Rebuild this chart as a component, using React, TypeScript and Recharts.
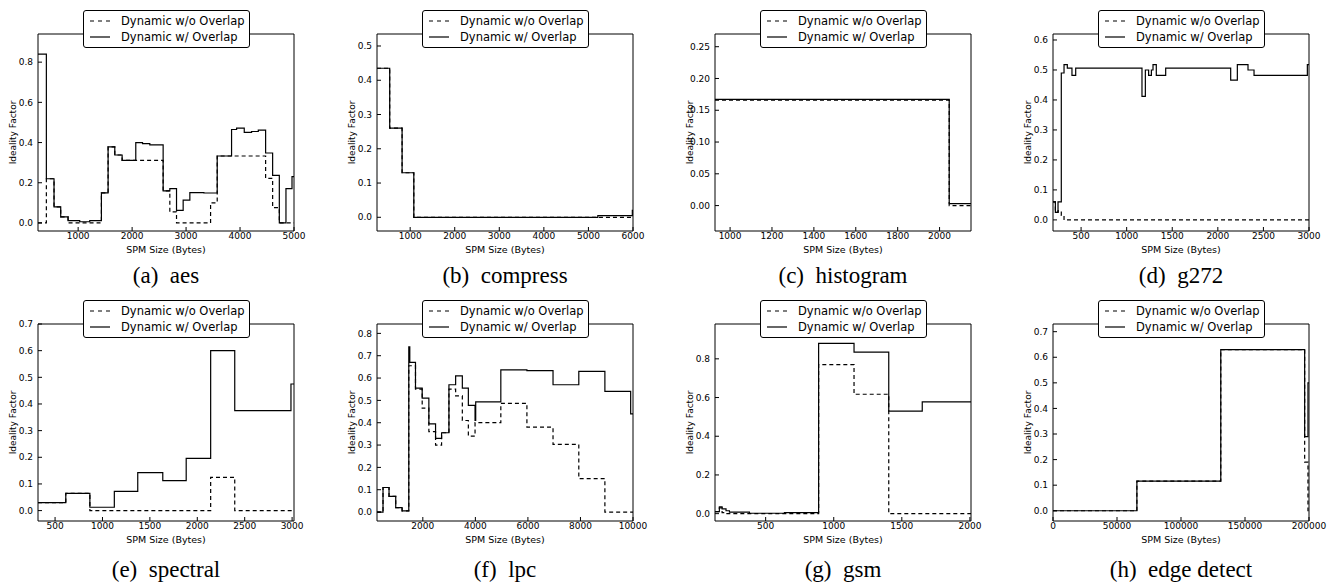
import { Legend, Line, LineChart, XAxis, YAxis } from "recharts";

type Pt = [number, number];

const seriesNames = ["Dynamic w/o Overlap", "Dynamic w/ Overlap"];
const captions = [
  "(a) aes",
  "(b) compress",
  "(c) histogram",
  "(d) g272",
  "(e) spectral",
  "(f) lpc",
  "(g) gsm",
  "(h) edge detect",
];

// [SPM size, ideality factor] break points of each step curve
const aesWo: Pt[] = [[256, 0], [411, 0.22], [553, 0.08], [677, 0.03], [813, 0], [1431, 0.15], [1555, 0.378], [1679, 0.338], [1815, 0.311], [2575, 0.16], [2699, 0.055], [2823, 0], [3454, 0.1], [3577, 0.333], [4474, 0.222], [4604, 0.076], [4728, 0], [5000, 0]];
const aesW: Pt[] = [[256, 0.84], [411, 0.22], [553, 0.08], [677, 0.03], [813, 0.012], [1029, 0.006], [1215, 0.012], [1431, 0.15], [1555, 0.378], [1679, 0.338], [1815, 0.311], [2068, 0.4], [2193, 0.395], [2328, 0.388], [2575, 0.16], [2699, 0.171], [2823, 0.063], [2946, 0.114], [3070, 0.151], [3330, 0.149], [3577, 0.333], [3843, 0.465], [3936, 0.472], [4078, 0.451], [4214, 0.455], [4338, 0.462], [4474, 0.348], [4604, 0.237], [4728, 0], [4851, 0.171], [4963, 0.23], [5000, 0.23]];

const compWo: Pt[] = [[256, 0.435], [541, 0.26], [819, 0.13], [1082, 0], [6000, 0]];
const compW: Pt[] = [[256, 0.435], [541, 0.26], [819, 0.13], [1082, 0], [5211, 0.005], [5985, 0.02], [6000, 0.02]];

const histWo: Pt[] = [[928, 0.166], [2046, 0], [2150, 0]];
const histW: Pt[] = [[928, 0.167], [2046, 0.003], [2150, 0.003]];

const g272Wo: Pt[] = [[192, 0.06], [218, 0.025], [247, 0.03], [283, 0.015], [313, 0], [3000, 0]];
const g272W: Pt[] = [[192, 0.06], [218, 0.025], [247, 0.06], [283, 0.49], [313, 0.518], [349, 0.506], [400, 0.482], [441, 0.506], [1168, 0.412], [1205, 0.5], [1241, 0.482], [1271, 0.5], [1289, 0.518], [1325, 0.482], [1428, 0.506], [2141, 0.466], [2214, 0.518], [2331, 0.5], [2397, 0.482], [2982, 0.518], [3000, 0.518]];

const specWo: Pt[] = [[320, 0.03], [613, 0.065], [867, 0], [2141, 0.125], [2395, 0], [3020, 0]];
const specW: Pt[] = [[320, 0.03], [613, 0.065], [867, 0.0125], [1125, 0.0725], [1372, 0.1425], [1636, 0.1125], [1883, 0.196], [2141, 0.6], [2395, 0.375], [2988, 0.475], [3020, 0.475]];

const lpcWo: Pt[] = [[256, 0], [485, 0.11], [714, 0.07], [969, 0.02], [1211, 0.005], [1466, 0.655], [1721, 0.55], [1976, 0.465], [2230, 0.36], [2485, 0.3], [2714, 0.355], [2994, 0.55], [3249, 0.52], [3504, 0.41], [3733, 0.34], [3988, 0.4], [4969, 0.487], [5962, 0.38], [6956, 0.303], [7937, 0.15], [8930, 0], [10000, 0]];
const lpcW: Pt[] = [[256, 0], [485, 0.11], [714, 0.07], [969, 0.02], [1211, 0.005], [1466, 0.74], [1504, 0.67], [1721, 0.555], [1976, 0.51], [2230, 0.395], [2485, 0.33], [2714, 0.355], [2994, 0.57], [3249, 0.61], [3504, 0.555], [3733, 0.478], [3988, 0.41], [4013, 0.493], [4969, 0.637], [5962, 0.633], [6956, 0.57], [7937, 0.63], [8930, 0.54], [9911, 0.44], [10000, 0.44]];

const gsmWo: Pt[] = [[128, 0.01], [160, 0.03], [180, 0.005], [209, 0], [889, 0.77], [1149, 0.617], [1404, 0], [2008, 0]];
const gsmW: Pt[] = [[128, 0.01], [160, 0.035], [180, 0.025], [209, 0.015], [234, 0.008], [381, 0.002], [638, 0.005], [889, 0.88], [1149, 0.835], [1404, 0.53], [1650, 0.578], [2008, 0.578]];

const edgeWo: Pt[] = [[0, 0], [65536, 0.116], [131072, 0.63], [196608, 0.19], [199200, 0], [200000, 0]];
const edgeW: Pt[] = [[0, 0], [65536, 0.116], [131072, 0.63], [196608, 0.29], [199200, 0.5], [200000, 0.5]];

const seriesWo = [aesWo, compWo, histWo, g272Wo, specWo, lpcWo, gsmWo, edgeWo];
const seriesW = [aesW, compW, histW, g272W, specW, lpcW, gsmW, edgeW];

const xDomains: [number, number][] = [[256, 5000], [256, 6000], [928, 2150], [192, 3000], [320, 3020], [256, 10000], [128, 2008], [0, 200000]];
const xTicks = [
  [1000, 2000, 3000, 4000, 5000],
  [1000, 2000, 3000, 4000, 5000, 6000],
  [1000, 1200, 1400, 1600, 1800, 2000],
  [500, 1000, 1500, 2000, 2500, 3000],
  [500, 1000, 1500, 2000, 2500, 3000],
  [2000, 4000, 6000, 8000, 10000],
  [500, 1000, 1500, 2000],
  [0, 50000, 100000, 150000, 200000],
];
const yDomains: [number, number][] = [[-0.04, 0.94], [-0.04, 0.535], [-0.04, 0.27], [-0.037, 0.62], [-0.039, 0.7], [-0.04, 0.842], [-0.038, 0.98], [-0.04, 0.73]];
const yTicks = [
  [0, 0.2, 0.4, 0.6, 0.8],
  [0, 0.1, 0.2, 0.3, 0.4, 0.5],
  [0, 0.05, 0.1, 0.15, 0.2, 0.25],
  [0, 0.1, 0.2, 0.3, 0.4, 0.5, 0.6],
  [0, 0.1, 0.2, 0.3, 0.4, 0.5, 0.6, 0.7],
  [0, 0.1, 0.2, 0.3, 0.4, 0.5, 0.6, 0.7, 0.8],
  [0, 0.2, 0.4, 0.6, 0.8],
  [0, 0.1, 0.2, 0.3, 0.4, 0.5, 0.6, 0.7],
];
const yDigits = [1, 1, 2, 1, 1, 1, 1, 1];

const FONT = "'DejaVu Sans', sans-serif";
const PLOT_W = 256;
const PLOT_H = 197;
const colLefts = [38, 377, 715, 1053];
const rowTops = [34, 324];
const captionCenters = [276, 570];
const Y_AXIS_W = 45;
const TOP_PAD = 30;

const toRows = (pts: Pt[]) => pts.map(([x, y]) => ({ x, y }));

const LegendBox = (props: any) => {
  const payload = [...(props.payload || [])].sort(
    (a: any, b: any) => seriesNames.indexOf(a.value) - seriesNames.indexOf(b.value)
  );
  return (
    <div
      style={{
        boxSizing: "border-box",
        width: 167,
        border: "1px solid #000",
        borderRadius: 3,
        background: "#fff",
        padding: "1.5px 0 1.5px 6px",
        fontFamily: FONT,
        fontSize: 11.5,
        color: "#000",
      }}
    >
      {payload.map((entry: any, i: number) => (
        <div key={i} style={{ display: "flex", alignItems: "center", height: 16.6 }}>
          <svg width={20} height={6} style={{ display: "block" }}>
            <line
              x1={0}
              y1={3}
              x2={20}
              y2={3}
              stroke="#000"
              strokeWidth={1.2}
              strokeDasharray={entry.value === seriesNames[0] ? "4 4" : undefined}
            />
          </svg>
          <span style={{ marginLeft: 11, whiteSpace: "nowrap" }}>{entry.value}</span>
        </div>
      ))}
    </div>
  );
};

function Panel({ idx }: { idx: number }) {
  const col = idx % 4;
  const row = Math.floor(idx / 4);
  const left = colLefts[col] - Y_AXIS_W;
  const top = rowTops[row] - TOP_PAD;
  const digits = yDigits[idx];
  const axisLine = { stroke: "#000", strokeWidth: 1 };
  const tickLine = { stroke: "#000" };
  const tickStyle = { fontSize: 9, fill: "#000", fontFamily: FONT };

  return (
    <div style={{ position: "absolute", left, top }}>
      <LineChart
        width={Y_AXIS_W + PLOT_W + 1 + 20}
        height={TOP_PAD + PLOT_H + 30}
        margin={{ top: TOP_PAD - 1, right: 20, bottom: 0, left: 0 }}
      >
        <XAxis
          dataKey="x"
          type="number"
          domain={xDomains[idx]}
          ticks={xTicks[idx]}
          interval={0}
          height={30}
          axisLine={axisLine}
          tickLine={tickLine}
          tickSize={-4}
          tickMargin={6}
          tick={tickStyle}
          tickFormatter={(v: number) => String(v)}
          label={{ value: "SPM Size (Bytes)", position: "insideBottom", offset: 8, fontSize: 9.5, fill: "#000", fontFamily: FONT }}
        />
        <XAxis
          xAxisId="t"
          orientation="top"
          dataKey="x"
          type="number"
          domain={xDomains[idx]}
          ticks={xTicks[idx]}
          interval={0}
          height={1}
          axisLine={axisLine}
          tickLine={tickLine}
          tickSize={-4}
          tick={false}
        />
        <YAxis
          type="number"
          domain={yDomains[idx]}
          ticks={yTicks[idx]}
          interval={0}
          width={Y_AXIS_W}
          axisLine={axisLine}
          tickLine={tickLine}
          tickSize={-4}
          tickMargin={9}
          tick={tickStyle}
          tickFormatter={(v: number) => v.toFixed(digits)}
          label={{
            value: "Ideality Factor",
            angle: -90,
            position: "insideLeft",
            offset: 20,
            fontSize: 9,
            fill: "#000",
            fontFamily: FONT,
            style: { textAnchor: "middle" },
          }}
        />
        <YAxis
          yAxisId="r"
          orientation="right"
          type="number"
          domain={yDomains[idx]}
          ticks={yTicks[idx]}
          interval={0}
          width={1}
          axisLine={axisLine}
          tickLine={tickLine}
          tickSize={-4}
          tick={false}
        />
        <Legend
          layout="horizontal"
          verticalAlign="middle"
          align="center"
          width={167}
          wrapperStyle={{ top: 6, left: Y_AXIS_W + 45 }}
          content={LegendBox}
        />
        <Line
          data={toRows(seriesWo[idx])}
          dataKey="y"
          name={seriesNames[0]}
          type="stepAfter"
          stroke="#000"
          strokeWidth={1.2}
          strokeDasharray="4 3"
          dot={false}
          activeDot={false}
          isAnimationActive={false}
        />
        <Line
          data={toRows(seriesW[idx])}
          dataKey="y"
          name={seriesNames[1]}
          type="stepAfter"
          stroke="#000"
          strokeWidth={1.2}
          dot={false}
          activeDot={false}
          isAnimationActive={false}
        />
      </LineChart>
    </div>
  );
}

export default function App() {
  return (
    <div style={{ position: "fixed", left: 0, top: 0, width: 1338, height: 587, background: "#fff", overflow: "hidden" }}>
      {captions.map((c, i) => (
        <Panel key={c} idx={i} />
      ))}
      {captions.map((c, i) => (
        <div
          key={"cap" + c}
          style={{
            position: "absolute",
            left: colLefts[i % 4],
            top: captionCenters[Math.floor(i / 4)] - 14,
            width: PLOT_W,
            lineHeight: "28px",
            textAlign: "center",
            fontFamily: "'Liberation Serif', serif",
            fontSize: 23,
            color: "#000",
            whiteSpace: "pre",
          }}
        >
          {c.replace(") ", ")  ")}
        </div>
      ))}
    </div>
  );
}
